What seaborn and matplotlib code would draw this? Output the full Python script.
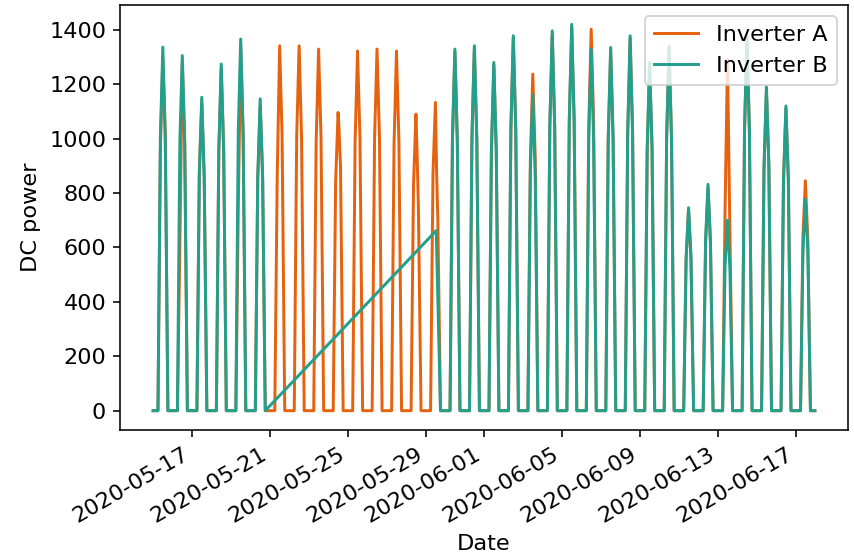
import matplotlib
matplotlib.use("Agg")
import matplotlib.pyplot as plt
import matplotlib.dates as mdates
import pandas as pd
import seaborn as sns

# ---------------- data ----------------
series_start = "2020-05-15 00:00"
series_end = "2020-06-17 23:45"

# daily reading times: sunrise, morning, noon, afternoon, sunset
day_hours = [6.0, 9.0, 12.0, 15.0, 18.25]

a_days = ["2020-05-15", "2020-05-16", "2020-05-17", "2020-05-18", "2020-05-19",
          "2020-05-20", "2020-05-21", "2020-05-22", "2020-05-23", "2020-05-24",
          "2020-05-25", "2020-05-26", "2020-05-27", "2020-05-28", "2020-05-29",
          "2020-05-30", "2020-05-31", "2020-06-01", "2020-06-02", "2020-06-03",
          "2020-06-04", "2020-06-05", "2020-06-06", "2020-06-07", "2020-06-08",
          "2020-06-09", "2020-06-10", "2020-06-11", "2020-06-12", "2020-06-13",
          "2020-06-14", "2020-06-15", "2020-06-16", "2020-06-17"]
a_morning = [960, 610, 880, 950, 742, 850, 863, 1010, 990, 840,
             990, 1000, 980, 830, 870, 1000, 990, 950, 1030, 920,
             1040, 1060, 1050, 1000, 1010, 950, 1000, 560, 610, 735,
             1020, 890, 840, 640]
a_peak = [1300, 1280, 1130, 1260, 1340, 1120, 1341, 1341, 1329, 1096,
          1322, 1329, 1322, 1090, 1133, 1320, 1330, 1270, 1370, 1237,
          1385, 1410, 1402, 1325, 1370, 1270, 1330, 740, 820, 1290,
          1370, 1180, 1110, 845]
a_afternoon = [1020, 980, 860, 960, 1010, 850, 1010, 1000, 1000, 900,
               1000, 1010, 990, 750, 700, 990, 1000, 960, 1040, 930,
               1050, 1070, 1060, 990, 1030, 960, 1000, 550, 620, 650,
               1030, 900, 850, 630]
a_extra_times = ["2020-05-24 13:00", "2020-05-28 13:30", "2020-05-29 13:30"]
a_extra_vals = [1047, 937, 870]

b_days = ["2020-05-15", "2020-05-16", "2020-05-17", "2020-05-18", "2020-05-19",
          "2020-05-20",
          "2020-05-30", "2020-05-31", "2020-06-01", "2020-06-02", "2020-06-03",
          "2020-06-04", "2020-06-05", "2020-06-06", "2020-06-07", "2020-06-08",
          "2020-06-09", "2020-06-10", "2020-06-11", "2020-06-12", "2020-06-13",
          "2020-06-14", "2020-06-15", "2020-06-16", "2020-06-17"]
b_morning = [1010, 990, 870, 960, 1030, 860,
             1000, 1010, 960, 1040, 880, 1050, 1070, 1000, 1000, 1030,
             960, 1010, 560, 630, 530, 1040, 890, 840, 580]
b_peak = [1336, 1305, 1152, 1274, 1366, 1146,
          1329, 1341, 1280, 1378, 1160, 1396, 1420, 1329, 1335, 1378,
          1280, 1340, 746, 832, 700, 1380, 1190, 1120, 777]
b_afternoon = [1000, 980, 860, 950, 1020, 870,
               990, 1000, 950, 1030, 870, 1040, 1060, 990, 1010, 1020,
               970, 1000, 570, 620, 520, 1030, 900, 850, 590]
# Inverter B comes back on 2020-05-29 after its outage
b_extra_times = ["2020-05-29 13:00", "2020-05-29 18:15"]
b_extra_vals = [662, 0]

labels = ["Inverter A", "Inverter B"]
colors = ["#e6620f", "#22a08c"]


def build(days, morning, peaks, afternoon, extra_t, extra_v):
    rows = [(pd.Timestamp(series_start), 0.0), (pd.Timestamp(series_end), 0.0)]
    for d, m, p, a in zip(days, morning, peaks, afternoon):
        day = pd.Timestamp(d)
        for h, v in zip(day_hours, [0.0, m, p, a, 0.0]):
            rows.append((day + pd.Timedelta(hours=h), float(v)))
    for t, v in zip(extra_t, extra_v):
        rows.append((pd.Timestamp(t), float(v)))
    df = pd.DataFrame(rows, columns=["Date", "DC power"]).drop_duplicates("Date")
    return df.sort_values("Date")


df_a = build(a_days, a_morning, a_peak, a_afternoon, a_extra_times, a_extra_vals)
df_b = build(b_days, b_morning, b_peak, b_afternoon, b_extra_times, b_extra_vals)

# ---------------- plot ----------------
plt.rcParams["font.size"] = 11.3
DPI = 142.5
fig = plt.figure(figsize=(854 / DPI, 557 / DPI), dpi=DPI)
ax = fig.add_axes([120 / 854, 1 - 430 / 557, 728 / 854, 425 / 557])

sns.lineplot(data=df_a, x="Date", y="DC power", ax=ax, color=colors[0],
             label=labels[0], linewidth=1.5, estimator=None)
sns.lineplot(data=df_b, x="Date", y="DC power", ax=ax, color=colors[1],
             label=labels[1], linewidth=1.5, estimator=None)

ax.xaxis.set_major_locator(mdates.DayLocator(bymonthday=[1, 5, 9, 13, 17, 21, 25, 29]))
ax.xaxis.set_major_formatter(mdates.DateFormatter("%Y-%m-%d"))
plt.setp(ax.get_xticklabels(), rotation=30, ha="right")
ax.set_xlabel("Date")
ax.set_ylabel("DC power")
ax.legend(loc="upper right")

fig.savefig("out.png", dpi=DPI)
